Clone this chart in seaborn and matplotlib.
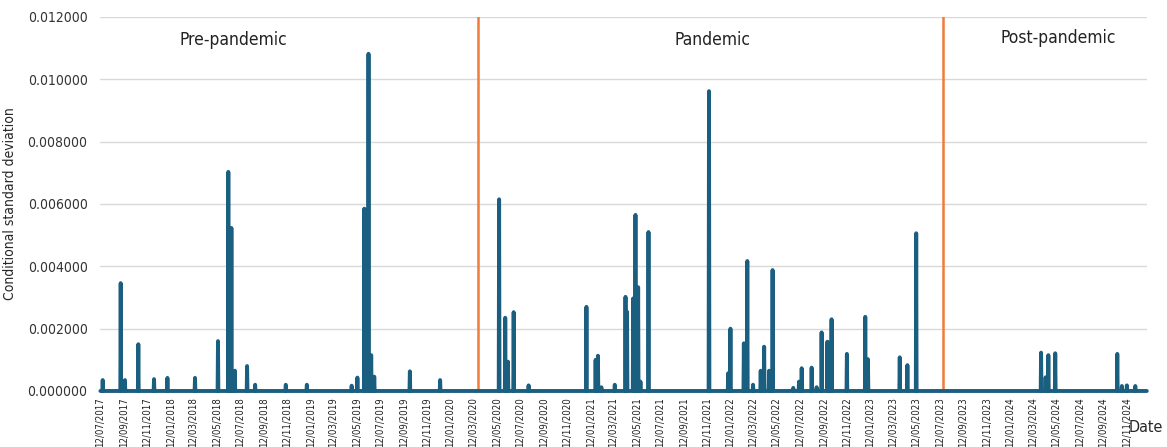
import pandas as pd
import numpy as np
import matplotlib
matplotlib.use("Agg")
import matplotlib.pyplot as plt
import matplotlib.dates as mdates
from matplotlib import font_manager
from matplotlib.ticker import FuncFormatter
import seaborn as sns

sns.set_style("white")

# Pick a condensed face if one is installed, else Liberation Sans a bit smaller
narrow = None
for f in font_manager.fontManager.ttflist:
    if f.weight in (400, "normal", "regular") and f.style == "normal" and (
            "Narrow" in f.name or "Condensed" in f.name
            or f.stretch in ("condensed", "semi-condensed")):
        narrow = f
        break
if narrow is not None:
    plt.rcParams['font.family'] = [narrow.name, 'DejaVu Sans']
    plt.rcParams['font.stretch'] = narrow.stretch
    fs = 1.0
else:
    plt.rcParams['font.family'] = ['Liberation Sans', 'DejaVu Sans']
    fs = 0.85

# Series range (daily)
start_date = "2017-07-12"
end_date = "2025-01-03"

# Spikes (all other days are zero)
spike_dates = [
    "2017-07-18", "2017-09-03", "2017-09-14", "2017-10-19", "2017-11-29",
    "2018-01-03", "2018-03-16", "2018-05-15", "2018-06-11", "2018-06-15",
    "2018-06-19", "2018-06-28", "2018-07-30", "2018-08-20", "2018-11-08",
    "2019-01-02", "2019-04-29", "2019-05-14", "2019-06-01", "2019-06-12",
    "2019-06-19", "2019-06-27", "2019-09-28", "2019-12-16",
    "2020-05-18", "2020-06-03", "2020-06-10", "2020-06-25", "2020-08-03",
    "2021-01-01", "2021-01-25", "2021-01-31", "2021-02-09", "2021-03-16",
    "2021-04-13", "2021-04-17", "2021-05-03", "2021-05-09", "2021-05-16",
    "2021-05-22", "2021-06-12", "2021-11-17", "2022-01-06", "2022-01-12",
    "2022-02-16", "2022-02-25", "2022-03-12", "2022-04-01", "2022-04-10",
    "2022-04-23", "2022-05-02", "2022-06-25", "2022-07-10", "2022-07-17",
    "2022-08-12", "2022-08-25", "2022-09-07", "2022-09-22", "2022-09-26",
    "2022-10-03", "2022-11-12", "2022-12-30", "2023-01-06", "2023-03-30",
    "2023-04-19", "2023-05-12",
    "2024-04-02", "2024-04-14", "2024-04-21", "2024-05-09", "2024-10-18",
    "2024-10-30", "2024-11-12", "2024-12-04",
]
spike_values = [
    0.00035, 0.00346, 0.00035, 0.00150, 0.00038,
    0.00042, 0.00042, 0.00160, 0.00703, 0.00280,
    0.00523, 0.00065, 0.00080, 0.00020, 0.00020,
    0.00020, 0.00017, 0.00043, 0.00585, 0.01082,
    0.00115, 0.00046, 0.00063, 0.00035,
    0.00615, 0.00235, 0.00094, 0.00253, 0.00018,
    0.00270, 0.00100, 0.00113, 0.00012, 0.00020,
    0.00302, 0.00254, 0.00297, 0.00565, 0.00333,
    0.00030, 0.00510, 0.00962, 0.00057, 0.00200,
    0.00153, 0.00417, 0.00020, 0.00065, 0.00142,
    0.00065, 0.00388, 0.00010, 0.00030, 0.00073,
    0.00075, 0.00012, 0.00188, 0.00158, 0.00155,
    0.00230, 0.00119, 0.00238, 0.00102, 0.00108,
    0.00083, 0.00506,
    0.00123, 0.00044, 0.00115, 0.00121, 0.00119,
    0.00016, 0.00018, 0.00016,
]

# Period boundaries and labels
boundary_dates = ["2020-03-25", "2023-07-21"]
period_labels = ["Pre-pandemic", "Pandemic", "Post-pandemic"]

# Build daily series
dates = pd.date_range(start_date, end_date, freq="D")
series = pd.Series(0.0, index=dates)
series.loc[pd.to_datetime(spike_dates)] = spike_values
df = pd.DataFrame({"Date": series.index, "csd": series.values})

fig = plt.figure(figsize=(11.67, 4.47), dpi=100)
ax = fig.add_axes([0.0857, 0.1253, 0.8973, 0.8367])

# Horizontal grid only
ax.yaxis.grid(True, color="#d9d9d9", linewidth=1)
ax.set_axisbelow(True)

sns.lineplot(data=df, x="Date", y="csd", ax=ax, color="#1a5e80",
             linewidth=2.8, estimator=None, clip_on=False, zorder=3)

for d in boundary_dates:
    ax.axvline(pd.Timestamp(d), color="#f07b3a", linewidth=1.8, zorder=2)

ax.set_xlim(pd.Timestamp("2017-07-11"), pd.Timestamp("2025-01-04"))
ax.set_ylim(0, 0.012)
ax.set_yticks(np.arange(0, 0.0121, 0.002))
ax.yaxis.set_major_formatter(FuncFormatter(lambda v, p: f"{v:.6f}"))

ax.xaxis.set_major_locator(mdates.MonthLocator(bymonth=[1, 3, 5, 7, 9, 11], bymonthday=12))
ax.xaxis.set_major_formatter(mdates.DateFormatter("%d/%m/%Y"))
ax.tick_params(axis="x", labelsize=6.9 * fs, labelrotation=90, colors="red",
               labelcolor="#222222", length=4, width=1.5, direction="out", pad=0.5)
ax.tick_params(axis="y", labelsize=10 * fs, length=0, labelcolor="#333333", pad=9)

sns.despine(ax=ax, left=True, bottom=True)

ax.set_xlabel("")
ax.set_ylabel("Conditional standard deviation", fontsize=10 * fs)
ax.yaxis.set_label_coords(-0.079, 0.5)
fig.text(0.997, 0.043, "Date", fontsize=11.5 * fs, ha="right", va="center")

# Period labels
label_x = [0.127, 0.5845, 0.915]
label_y = [0.9385, 0.9385, 0.944]
for txt, lx, ly in zip(period_labels, label_x, label_y):
    ax.text(lx, ly, txt, transform=ax.transAxes, fontsize=12.5 * fs,
            ha="center", va="center", color="#222222")

fig.savefig("out.png", dpi=100)
